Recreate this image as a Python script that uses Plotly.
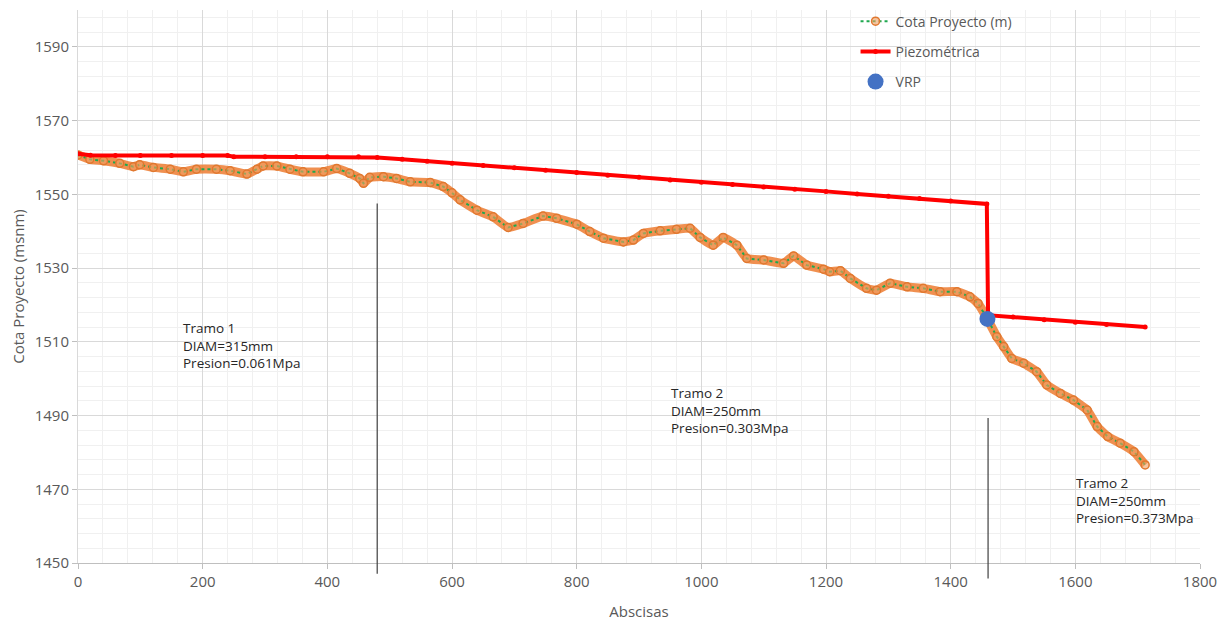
import plotly.graph_objects as go

# Terrain profile (Cota Proyecto)
abscisa = [0, 19, 41, 67, 89, 99, 121, 148, 169, 190, 222, 244, 271, 287, 297, 319, 340, 361, 394, 415,
           436, 452, 458, 468, 490, 511, 533, 565, 586, 600, 613, 640, 666, 690, 714, 746, 768, 800, 821, 843,
           875, 891, 907, 934, 960, 982, 998, 1019, 1035, 1057, 1073, 1100, 1132, 1148, 1169, 1196, 1206, 1223,
           1239, 1265, 1281, 1303, 1330, 1356, 1383, 1410, 1431, 1444, 1458, 1474, 1485, 1498, 1517, 1538,
           1554, 1576, 1597, 1619, 1635, 1652, 1672, 1694, 1712]
cota = [1560.7, 1559.5, 1559.1, 1558.4, 1557.5, 1558.0, 1557.3, 1556.8, 1556.1, 1556.8, 1556.8, 1556.4, 1555.5,
        1556.8, 1557.7, 1557.7, 1556.8, 1556.1, 1556.1, 1557.0, 1555.7, 1554.3, 1553.0, 1554.6, 1554.8, 1554.3,
        1553.4, 1553.2, 1552.1, 1550.4, 1548.5, 1545.7, 1543.9, 1541.0, 1542.1, 1544.1, 1543.5, 1541.9, 1539.9,
        1538.1, 1537.1, 1537.6, 1539.4, 1540.1, 1540.5, 1540.8, 1538.3, 1536.2, 1538.3, 1536.2, 1532.6, 1532.2,
        1531.3, 1533.3, 1530.8, 1529.7, 1529.0, 1529.3, 1527.2, 1524.5, 1524.0, 1525.9, 1524.9, 1524.5, 1523.6,
        1523.6, 1522.2, 1520.4, 1516.5, 1511.4, 1508.7, 1505.5, 1504.2, 1501.9, 1498.3, 1496.0, 1494.2, 1491.5,
        1487.0, 1484.3, 1482.5, 1480.2, 1476.6]

# Hydraulic grade line (Piezométrica)
piezo_x = [0, 20, 60, 100, 150, 200, 240, 250, 300, 350, 400, 450, 480, 520, 560, 600, 650, 700, 750, 800,
           850, 900, 950, 1000, 1050, 1100, 1150, 1200, 1250, 1300, 1350, 1400, 1458, 1460, 1500, 1550, 1600,
           1650, 1712]
piezo_y = [1561.0, 1560.6, 1560.5, 1560.5, 1560.5, 1560.5, 1560.5, 1560.2, 1560.2, 1560.2, 1560.2, 1560.2,
           1560.0, 1559.5, 1559.0, 1558.4, 1557.8, 1557.2, 1556.5, 1555.9, 1555.2, 1554.6, 1553.9, 1553.3,
           1552.7, 1552.0, 1551.4, 1550.8, 1550.1, 1549.5, 1548.9, 1548.2, 1547.4, 1517.2, 1516.7, 1516.0,
           1515.3, 1514.7, 1514.0]

# Pressure reducing valve
vrp_x = [1459]
vrp_y = [1516.2]

# Section dividers (x, top y, bottom y)
divider_x = [480, 1460]
divider_top = [1547.5, 1489.3]
divider_bottom = [1446.7, 1445.4]

# Section labels
label_x = [166, 948, 1598]
label_y = [1516.8, 1499.2, 1474.8]
label_text = ["Tramo 1<br>DIAM=315mm<br>Presion=0.061Mpa",
              "Tramo 2<br>DIAM=250mm<br>Presion=0.303Mpa",
              "Tramo 2<br>DIAM=250mm<br>Presion=0.373Mpa"]

FONT = "Open Sans, Noto Sans, sans-serif"
GREY = "#595959"

fig = go.Figure()

fig.add_trace(go.Scatter(x=abscisa, y=cota, mode="lines", showlegend=False, hoverinfo="skip",
                         line=dict(color="rgba(237,125,49,0.85)", width=9, shape="spline", smoothing=0.4)))
fig.add_trace(go.Scatter(x=abscisa, y=cota, mode="lines+markers", name="Cota Proyecto (m)",
                         legendgroup="a",
                         line=dict(color="#1FA84F", width=2, dash="dot"),
                         marker=dict(symbol="circle", size=8, color="rgba(240,160,100,0.6)",
                                     line=dict(color="#E0782F", width=1.5))))
fig.add_trace(go.Scatter(x=piezo_x, y=piezo_y, mode="lines+markers", name="Piezométrica",
                         legendgroup="b",
                         line=dict(color="#FF0000", width=4),
                         marker=dict(symbol="circle", size=5, color="#FF0000")))
fig.add_trace(go.Scatter(x=vrp_x, y=vrp_y, mode="markers", name="VRP", legendgroup="c",
                         marker=dict(symbol="circle", size=16, color="#4472C4")))

for dx, dt, db in zip(divider_x, divider_top, divider_bottom):
    fig.add_annotation(x=dx, y=dt, ax=dx, ay=db, xref="x", yref="y", axref="x", ayref="y",
                       text="", showarrow=True, arrowhead=0, arrowwidth=1.2, arrowcolor="#404040")

for lx, ly, lt in zip(label_x, label_y, label_text):
    fig.add_annotation(x=lx, y=ly, xref="x", yref="y", text=lt, showarrow=False,
                       xanchor="left", yanchor="top", align="left",
                       font=dict(family=FONT, size=13.5, color="#262626"))

# page body has an 8px margin, so size the figure to fit inside the window
fig.update_layout(
    width=1219, height=613,
    margin=dict(l=70, r=27, t=2, b=58, autoexpand=False),
    paper_bgcolor="white", plot_bgcolor="white",
    font=dict(family=FONT, color=GREY),
    legend=dict(x=0.693, y=1.008, xanchor="left", yanchor="top", bgcolor="rgba(0,0,0,0)",
                font=dict(family=FONT, size=14, color=GREY), tracegroupgap=9,
                traceorder="grouped"),
)
fig.update_xaxes(range=[0, 1800], dtick=200, tick0=0, showgrid=True, gridcolor="#D9D9D9", gridwidth=1,
                 zeroline=False, showline=True, linecolor="#BFBFBF", ticks="outside", ticklen=5,
                 tickcolor="#BFBFBF", tickfont=dict(size=15, color=GREY), automargin=False,
                 title=dict(text="Abscisas", font=dict(size=15, color=GREY), standoff=16),
                 minor=dict(dtick=40, tick0=0, showgrid=True, gridcolor="#F0F0F0"))
fig.update_yaxes(range=[1450, 1600], dtick=20, tick0=1450, showgrid=True, gridcolor="#D9D9D9", gridwidth=1,
                 zeroline=False, showline=True, linecolor="#D9D9D9", ticks="outside", ticklen=5,
                 tickcolor="#BFBFBF", tickfont=dict(size=15, color=GREY), automargin=False,
                 title=dict(text="Cota Proyecto (msnm)", font=dict(size=15, color=GREY), standoff=10),
                 minor=dict(dtick=4, tick0=1450, showgrid=True, gridcolor="#F0F0F0"))

fig.write_html("out.html")
